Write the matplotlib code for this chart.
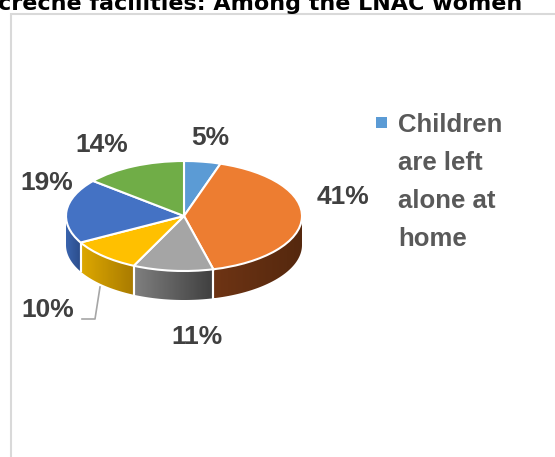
import numpy as np
import matplotlib
matplotlib.use("Agg")
import matplotlib.pyplot as plt
from matplotlib.patches import Polygon, Rectangle
from matplotlib.transforms import Affine2D
from matplotlib.lines import Line2D
from matplotlib.colors import LinearSegmentedColormap

# ---- data ----
categories = ["Children are left alone at home", "Category 2", "Category 3",
              "Category 4", "Category 5", "Category 6"]
values = [5, 41, 11, 10, 19, 14]
pct_labels = ["5%", "41%", "11%", "10%", "19%", "14%"]
legend_lines = "Children\nare left\nalone at\nhome"
title_text = "creche facilities: Among the LNAC women"

top_colors = ["#5B9BD5", "#ED7D31", "#A5A5A5", "#FFC000", "#4472C4", "#70AD47"]
side_light = ["#4A7FB0", "#6E3414", "#7F7F7F", "#DDA800", "#3A64AE", "#5C8F3A"]
side_dark = ["#2F5C8A", "#55280E", "#3F3F3F", "#A87A00", "#2B4C8A", "#44702A"]

W, H = 555, 457
fig = plt.figure(figsize=(W / 100, H / 100), dpi=100)
ax = fig.add_axes([0, 0, 1, 1])

def Y(y):
    return H - y

cx, cy = 184, Y(216)
rx, ry = 118, 55
depth = 29
sy = ry / rx

# chart border
ax.add_patch(Rectangle((11, Y(470)), 560, 456, fill=False, ec="#D9D9D9", lw=1.5, zorder=1))

total = float(sum(values))
start = 90.0
angles = []
for v in values:
    a1 = start - 360.0 * v / total
    angles.append((a1, start))
    start = a1

# side walls (front half only) with horizontal gradient
for i, (a1, a2) in enumerate(angles):
    for shift in (0, -360, 360):
        lo, hi = a1 + shift, a2 + shift
        vlo, vhi = max(lo, -180), min(hi, 0)
        if vhi <= vlo:
            continue
        th = np.radians(np.linspace(vlo, vhi, 80))
        xt = cx + rx * np.cos(th)
        yt = cy + ry * np.sin(th)
        xs = np.concatenate([xt, xt[::-1]])
        ys = np.concatenate([yt, (yt - depth)[::-1]])
        poly = Polygon(np.column_stack([xs, ys]), closed=True, fc="none", ec="none", zorder=2)
        ax.add_patch(poly)
        cmap = LinearSegmentedColormap.from_list("g%d" % i, [side_light[i], side_dark[i]])
        grad = np.linspace(0, 1, 64).reshape(1, -1)
        im = ax.imshow(grad, cmap=cmap, aspect="auto", zorder=2, interpolation="bilinear",
                       extent=(xs.min(), xs.max(), ys.min(), ys.max()))
        im.set_clip_path(poly)
        for a in (vlo, vhi):
            if a in (-180, 0):
                continue
            r = np.radians(a)
            ax.add_line(Line2D([cx + rx * np.cos(r)] * 2,
                               [cy + ry * np.sin(r), cy + ry * np.sin(r) - depth],
                               color="white", lw=1.5, zorder=3))

# top face
wedges, _ = ax.pie(values, colors=top_colors, startangle=90, counterclock=False,
                   center=(cx, cy), radius=rx,
                   wedgeprops=dict(edgecolor="white", linewidth=1.5))
tr = Affine2D().translate(-cx, -cy).scale(1, sy).translate(cx, cy) + ax.transData
for w in wedges:
    w.set_transform(tr)
    w.set_zorder(4)

ax.set_aspect("auto")
ax.set_xlim(0, W)
ax.set_ylim(0, H)
ax.axis("off")

FONT = ["Liberation Sans", "DejaVu Sans"]

# percentage labels
label_pos = [(210, 138), (343, 197), (197, 337), (48, 310), (47, 183), (102, 145)]
for txt, (x, y) in zip(pct_labels, label_pos):
    ax.text(x, Y(y), txt, fontsize=19, fontweight="bold", color="#404040",
            family=FONT, ha="center", va="center", zorder=6)

# leader line for 10%
ax.plot([82, 95, 100], [Y(319), Y(319), Y(287)], color="#A6A6A6", lw=1.2, zorder=5)

# legend
ax.add_patch(Rectangle((376, Y(128)), 11, 11, fc=top_colors[0], ec="none", zorder=6))
ax.text(398, Y(113), legend_lines, fontsize=18.5, fontweight="bold", color="#595959",
        family=FONT, ha="left", va="top", linespacing=1.73, zorder=6)

# title (cut off at top, as in the reference)
ax.text(-2, Y(10), title_text, fontsize=16, fontweight="bold", color="black",
        family="DejaVu Sans", ha="left", va="baseline", zorder=6)

fig.savefig("out.png", dpi=100)
